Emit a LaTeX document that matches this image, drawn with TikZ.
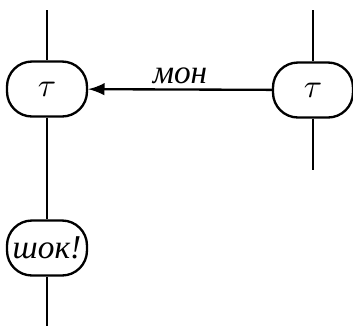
\documentclass[tikz,border=0pt]{standalone}
\usepackage{amsmath}
\usepackage{fontspec}
\newfontfamily\cyrit{Liberation Serif Italic}
\usepackage{tikz}

\begin{document}
\begin{tikzpicture}[x=0.3pt, y=-0.3pt, line width=0.7pt]
    \tikzstyle{every node}=[inner sep=1pt]
    \tikzstyle{box}=[draw, rectangle, rounded corners=7.5pt, minimum width=24pt, minimum height=16.5pt]
    \useasboundingbox (0,0) rectangle (353,326);
    \draw (47, 89) node[box] (tl) {$\tau$};
    \draw (313, 90) node[box] (tr) {$\tau$};
    \draw (47, 248) node[box] (shock) {\cyrit шок!};
    \coordinate (ltop) at (47, 10);
    \coordinate (lbot) at (47, 326);
    \coordinate (rtop) at (313, 10);
    \coordinate (rbot) at (313, 170);
    \draw (ltop) -- (tl);
    \draw (tl) -- (shock);
    \draw (shock) -- (lbot);
    \draw (rtop) -- (tr);
    \draw (tr) -- (rbot);
    \draw[-latex] (tr) -- node[above, inner sep=1.5pt] {\cyrit мон} (tl);
\end{tikzpicture}
\end{document}
